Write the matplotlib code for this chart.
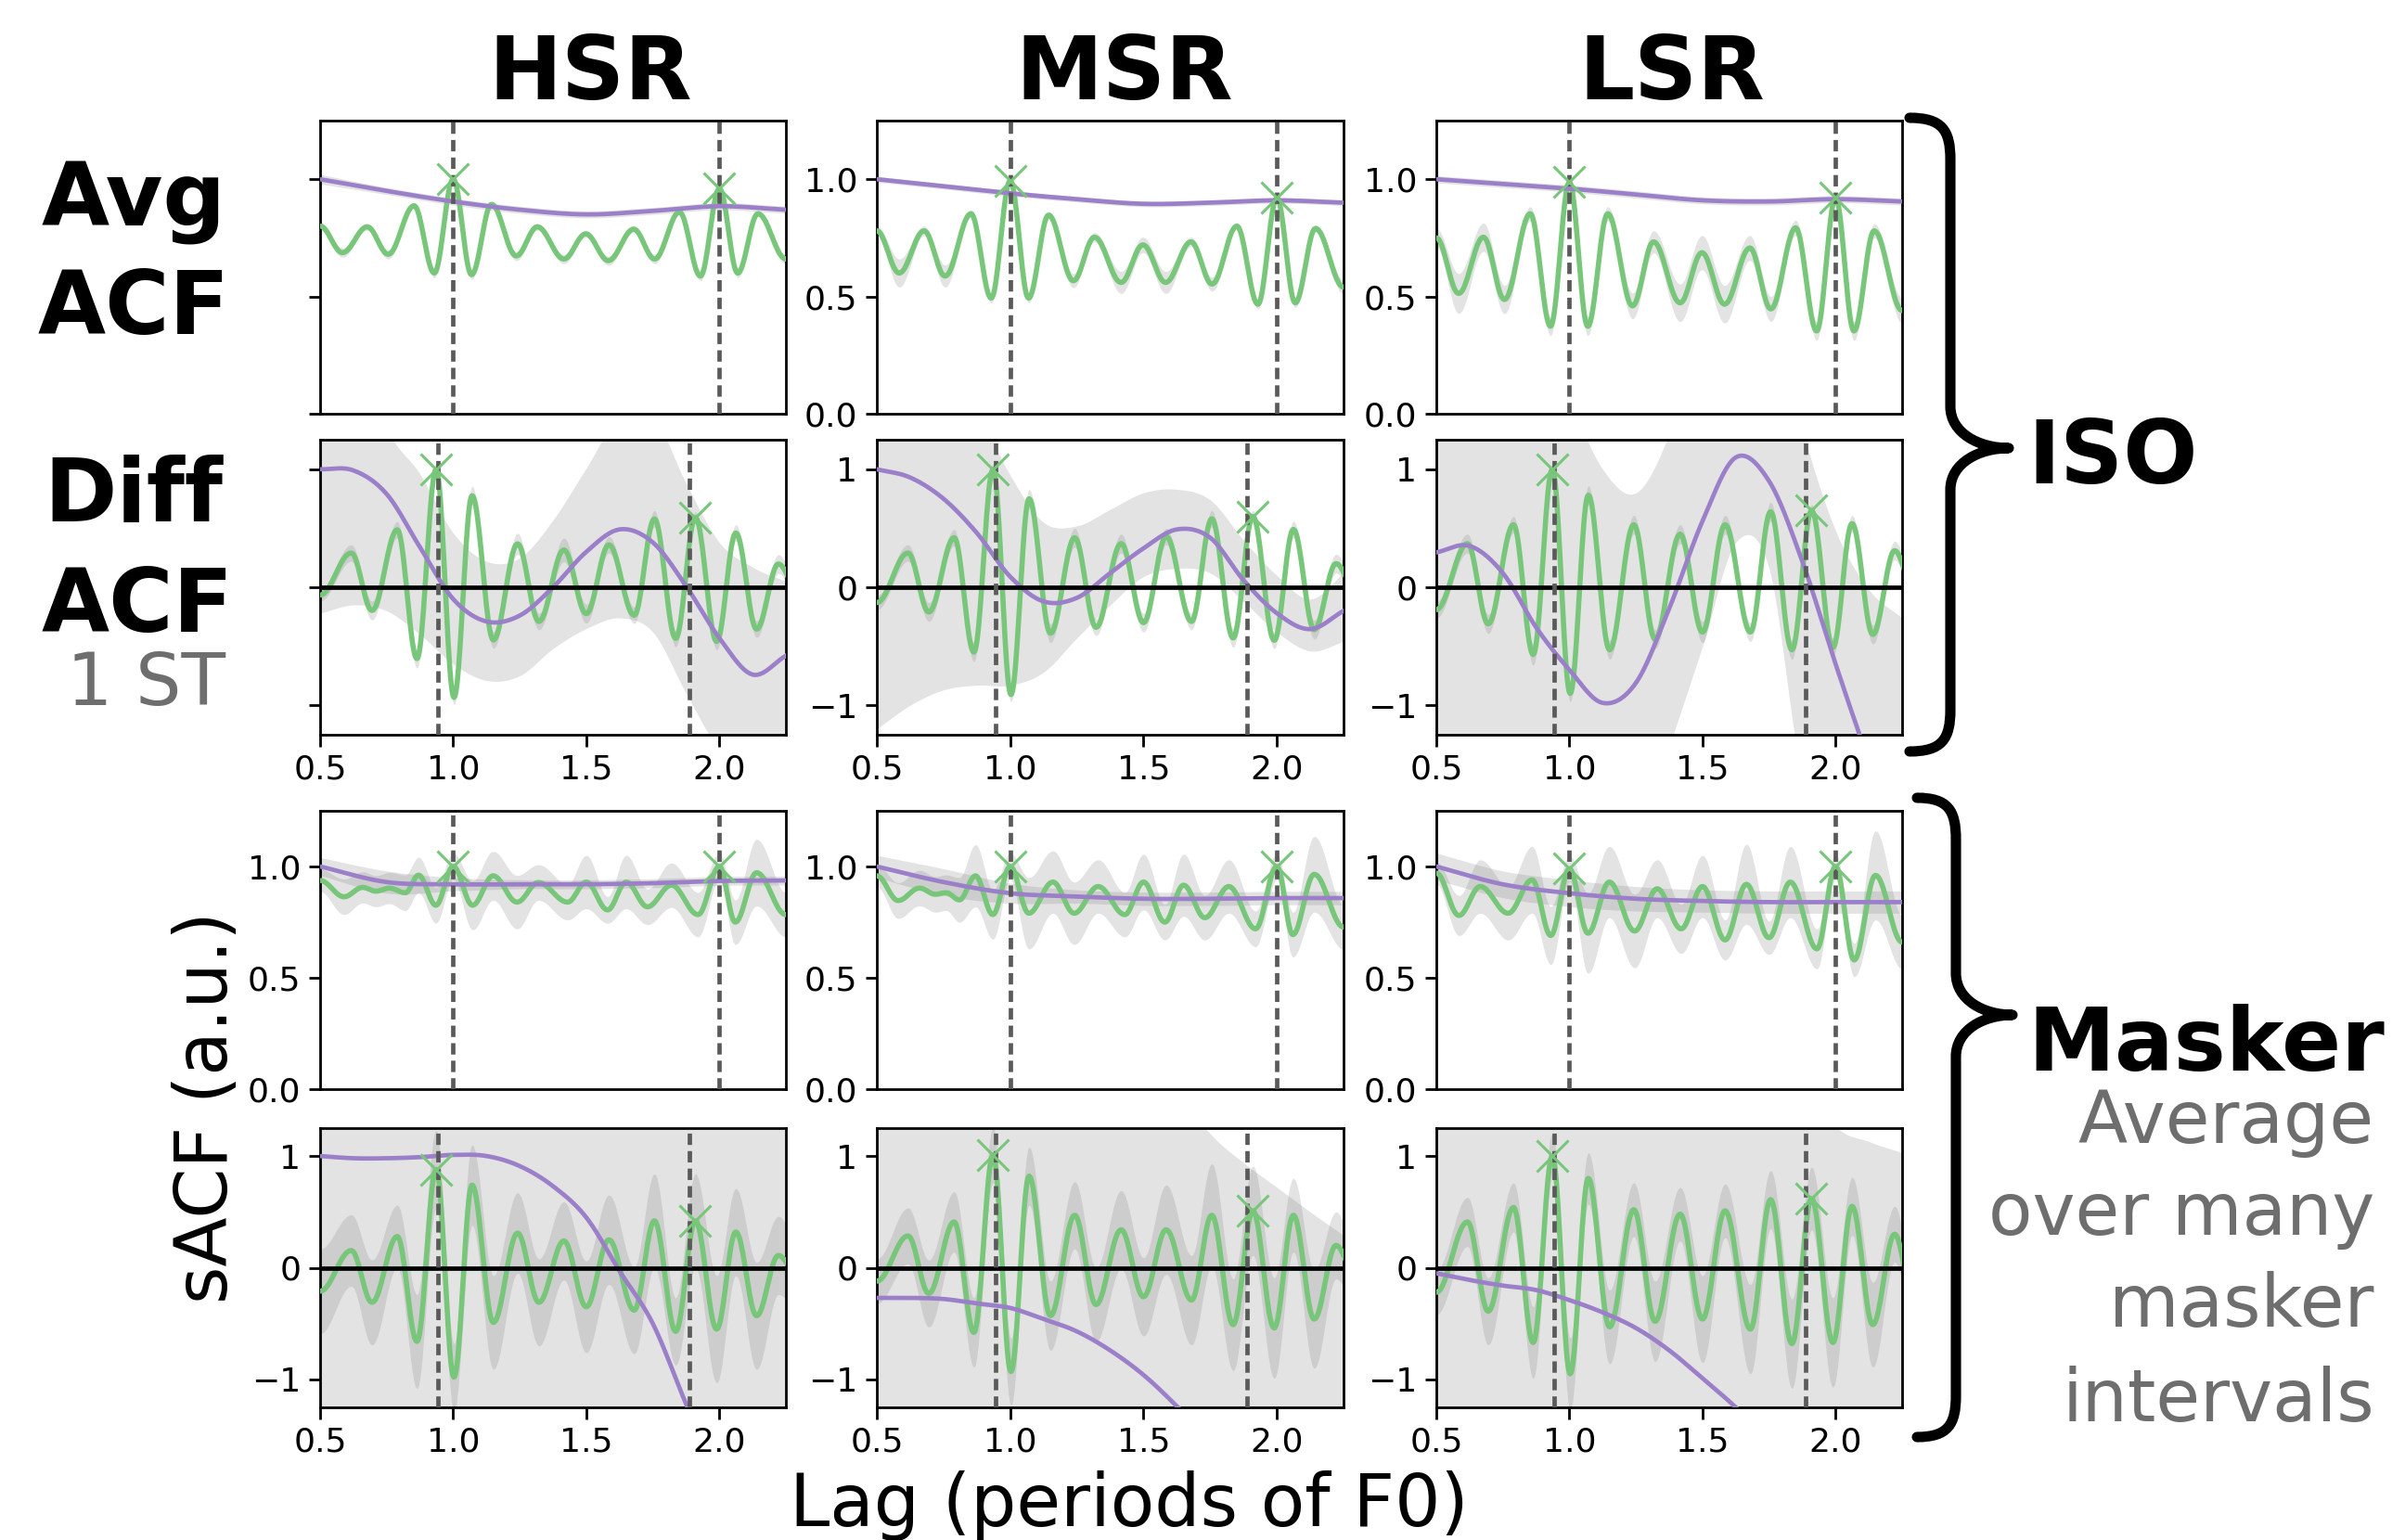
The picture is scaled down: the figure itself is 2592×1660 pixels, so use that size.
import numpy as np
import matplotlib
matplotlib.use("Agg")
import matplotlib.pyplot as plt
from matplotlib.path import Path
from matplotlib.patches import PathPatch

plt.rcParams['font.family'] = 'DejaVu Sans'

W, H, DPI = 2592, 1660, 200

GREEN = '#77c67a'
PURPLE = '#9b80c9'
DASH = '#5a5a5a'
GREY_TXT = '#6e6e6e'

columns = ['HSR', 'MSR', 'LSR']

### lags (periods of F0) of the ACF peaks / troughs
lag_avg = [0.50, 0.584, 0.677, 0.756, 0.853, 0.929, 1.0, 1.069, 1.144, 1.237, 1.316,
           1.416, 1.498, 1.583, 1.678, 1.757, 1.85, 1.929, 2.0, 2.069, 2.145, 2.25]
lag_diff = [0.50, 0.617, 0.695, 0.79, 0.864, 0.936, 1.003, 1.071, 1.151, 1.242, 1.322, 1.416,
            1.5, 1.585, 1.68, 1.756, 1.836, 1.91, 1.99, 2.062, 2.14, 2.222, 2.29]
lag_msk_avg = [
    [0.5, 0.59, 0.66, 0.71, 0.76, 0.82, 0.87, 0.935, 1.0, 1.073, 1.15, 1.24,
     1.32, 1.43, 1.5, 1.58, 1.65, 1.73, 1.82, 1.92, 2.0, 2.06, 2.14, 2.25],
    [0.5, 0.58, 0.66, 0.72, 0.76, 0.81, 0.87, 0.935, 1.0, 1.07, 1.16, 1.24,
     1.33, 1.43, 1.5, 1.58, 1.65, 1.73, 1.82, 1.92, 2.0, 2.06, 2.14, 2.25],
    [0.5, 0.585, 0.665, 0.77, 0.86, 0.93, 1.0, 1.07, 1.15, 1.245, 1.33,
     1.42, 1.5, 1.585, 1.665, 1.75, 1.83, 1.93, 2.0, 2.07, 2.15, 2.25],
]

# lags of the smooth fit (purple)
fit_lag_avg = [0.5, 0.75, 1.0, 1.25, 1.5, 1.75, 2.0, 2.25]
fit_lag_diff = [0.5, 0.625, 0.75, 0.875, 1.0, 1.125, 1.25, 1.375, 1.5, 1.625, 1.75, 1.875, 2.0, 2.125, 2.25]

period_avg = [1.0, 2.0]
period_diff = [0.944, 1.888]   # 1 semitone shift

### ISO - Avg ACF
iso_avg_green = [
    [0.80, 0.687, 0.797, 0.68, 0.887, 0.60, 1.0, 0.593, 0.893, 0.673, 0.797,
     0.66, 0.767, 0.653, 0.787, 0.66, 0.86, 0.587, 0.96, 0.60, 0.853, 0.66],
    [0.78, 0.60, 0.78, 0.587, 0.853, 0.493, 0.993, 0.493, 0.847, 0.567, 0.753,
     0.56, 0.72, 0.56, 0.733, 0.553, 0.80, 0.467, 0.92, 0.473, 0.79, 0.54],
    [0.75, 0.513, 0.753, 0.487, 0.853, 0.373, 0.987, 0.373, 0.853, 0.46, 0.733,
     0.473, 0.687, 0.467, 0.707, 0.447, 0.793, 0.353, 0.92, 0.353, 0.78, 0.44],
]
iso_avg_spread = [
    [0.015, 0.02, 0.015, 0.02, 0.01, 0.02, 0.01, 0.02, 0.01, 0.02, 0.015,
     0.02, 0.015, 0.02, 0.015, 0.02, 0.01, 0.02, 0.01, 0.02, 0.01, 0.02],
    [0.02, 0.06, 0.02, 0.047, 0.015, 0.02, 0.01, 0.02, 0.015, 0.03, 0.02,
     0.047, 0.033, 0.047, 0.02, 0.03, 0.015, 0.02, 0.01, 0.02, 0.015, 0.03],
    [0.04, 0.085, 0.06, 0.06, 0.03, 0.04, 0.02, 0.04, 0.03, 0.055, 0.047,
     0.08, 0.073, 0.08, 0.053, 0.053, 0.033, 0.04, 0.02, 0.04, 0.03, 0.055],
]
iso_avg_fit = [
    [1.0, 0.95, 0.905, 0.87, 0.85, 0.865, 0.885, 0.87],
    [1.0, 0.97, 0.94, 0.915, 0.895, 0.9, 0.91, 0.9],
    [1.0, 0.98, 0.96, 0.935, 0.91, 0.905, 0.915, 0.905],
]
iso_avg_hi = [
    [1.02, 0.965, 0.92, 0.885, 0.865, 0.88, 0.90, 0.885],
    [1.012, 0.982, 0.952, 0.927, 0.907, 0.912, 0.922, 0.912],
    [1.015, 0.995, 0.975, 0.95, 0.925, 0.92, 0.93, 0.92],
]
iso_avg_lo = [
    [0.98, 0.935, 0.89, 0.855, 0.835, 0.85, 0.87, 0.855],
    [0.988, 0.958, 0.928, 0.903, 0.883, 0.888, 0.898, 0.888],
    [0.985, 0.965, 0.945, 0.92, 0.895, 0.89, 0.90, 0.89],
]

### ISO - Diff ACF
iso_diff_green = [
    [-0.066, 0.29, -0.197, 0.487, -0.605, 1.0, -0.934, 0.776, -0.447, 0.368, -0.29, 0.316,
     -0.224, 0.36, -0.237, 0.579, -0.434, 0.59, -0.46, 0.46, -0.355, 0.197, 0.0],
    [-0.13, 0.29, -0.21, 0.42, -0.55, 1.0, -0.91, 0.75, -0.39, 0.42, -0.34, 0.37,
     -0.30, 0.43, -0.29, 0.58, -0.43, 0.60, -0.45, 0.49, -0.36, 0.20, 0.0],
    [-0.19, 0.37, -0.31, 0.53, -0.57, 1.0, -0.90, 0.78, -0.53, 0.53, -0.44, 0.45,
     -0.38, 0.53, -0.38, 0.64, -0.53, 0.65, -0.51, 0.54, -0.40, 0.31, 0.02],
]
iso_diff_spread = [
    [0.05, 0.07, 0.08, 0.07, 0.08, 0.05, 0.06, 0.08, 0.07, 0.09, 0.07, 0.10,
     0.08, 0.07, 0.07, 0.07, 0.07, 0.05, 0.07, 0.07, 0.07, 0.08, 0.07],
    [0.06, 0.07, 0.08, 0.07, 0.08, 0.05, 0.06, 0.08, 0.08, 0.08, 0.07, 0.08,
     0.08, 0.07, 0.07, 0.07, 0.08, 0.05, 0.07, 0.07, 0.08, 0.08, 0.07],
    [0.07, 0.08, 0.08, 0.07, 0.09, 0.05, 0.07, 0.08, 0.08, 0.08, 0.08, 0.08,
     0.09, 0.08, 0.08, 0.08, 0.08, 0.05, 0.08, 0.07, 0.08, 0.08, 0.07],
]
iso_diff_fit = [
    [1.0, 0.99, 0.79, 0.34, -0.10, -0.29, -0.24, 0.0, 0.30, 0.49, 0.38, 0.01, -0.43, -0.74, -0.58],
    [1.0, 0.93, 0.75, 0.46, 0.09, -0.12, -0.09, 0.12, 0.33, 0.49, 0.42, 0.06, -0.22, -0.355, -0.2],
    [0.295, 0.35, 0.12, -0.34, -0.70, -0.98, -0.81, -0.18, 0.56, 1.10, 0.90, 0.22, -0.65, -1.47, -2.2],
]
iso_diff_hi = [
    [2.5, 2.2, 1.35, 0.96, 0.46, 0.22, 0.25, 0.57, 1.01, 1.45, 1.45, 0.88, 0.38, 0.17, 0.05],
    [2.5, 2.2, 1.9, 1.5, 0.95, 0.55, 0.52, 0.66, 0.80, 0.83, 0.74, 0.40, 0.10, -0.10, 0.12],
    [2.5, 2.5, 2.5, 2.3, 1.6, 1.0, 0.8, 1.3, 2.2, 2.8, 2.6, 1.35, 0.48, -0.02, -0.26],
]
iso_diff_lo = [
    [-0.22, -0.15, -0.20, -0.40, -0.65, -0.79, -0.75, -0.52, -0.35, -0.26, -0.38, -0.90, -1.4, -1.8, -2.0],
    [-1.2, -1.0, -0.87, -0.83, -0.83, -0.72, -0.43, -0.15, 0.09, 0.16, 0.12, -0.12, -0.38, -0.54, -0.46],
    [-2.5, -2.5, -2.5, -2.3, -2.2, -2.3, -2.2, -1.35, -0.5, 0.38, 0.16, -1.6, -2.0, -2.8, -3.5],
]

### Masker - Avg ACF
msk_avg_green = [
    [0.937, 0.864, 0.906, 0.889, 0.903, 0.882, 0.961, 0.826, 1.0, 0.826, 0.958, 0.84,
     0.928, 0.84, 0.93, 0.805, 0.93, 0.819, 0.916, 0.784, 1.0, 0.75, 0.972, 0.784],
    [0.958, 0.847, 0.903, 0.875, 0.882, 0.85, 0.958, 0.784, 1.0, 0.79, 0.93, 0.79,
     0.91, 0.784, 0.93, 0.75, 0.916, 0.77, 0.91, 0.72, 1.0, 0.694, 0.965, 0.728],
    [0.97, 0.78, 0.91, 0.79, 0.94, 0.69, 0.99, 0.70, 0.93, 0.71, 0.90,
     0.72, 0.91, 0.67, 0.92, 0.68, 0.93, 0.63, 1.0, 0.58, 0.96, 0.66],
]
msk_avg_spread = [
    [0.05, 0.08, 0.07, 0.07, 0.07, 0.08, 0.08, 0.08, 0.06, 0.11, 0.11, 0.12,
     0.08, 0.08, 0.12, 0.06, 0.12, 0.08, 0.10, 0.10, 0.06, 0.10, 0.15, 0.10],
    [0.05, 0.08, 0.08, 0.08, 0.08, 0.10, 0.14, 0.11, 0.06, 0.16, 0.14, 0.14,
     0.12, 0.10, 0.125, 0.08, 0.14, 0.10, 0.12, 0.08, 0.06, 0.10, 0.17, 0.10],
    [0.05, 0.09, 0.12, 0.12, 0.15, 0.13, 0.06, 0.18, 0.16, 0.165, 0.13,
     0.11, 0.14, 0.09, 0.18, 0.075, 0.16, 0.09, 0.06, 0.075, 0.20, 0.12],
]
msk_avg_fit = [
    [1.0, 0.93, 0.92, 0.92, 0.92, 0.925, 0.935, 0.937],
    [1.0, 0.93, 0.88, 0.865, 0.855, 0.855, 0.858, 0.858],
    [1.0, 0.92, 0.88, 0.855, 0.845, 0.84, 0.84, 0.84],
]
msk_avg_hi = [
    [1.04, 0.98, 0.95, 0.94, 0.94, 0.945, 0.955, 0.957],
    [1.05, 0.99, 0.925, 0.895, 0.885, 0.885, 0.888, 0.888],
    [1.06, 0.98, 0.94, 0.91, 0.895, 0.89, 0.89, 0.89],
]
msk_avg_lo = [
    [0.96, 0.88, 0.89, 0.90, 0.90, 0.905, 0.915, 0.917],
    [0.95, 0.87, 0.835, 0.835, 0.825, 0.825, 0.828, 0.828],
    [0.94, 0.86, 0.82, 0.80, 0.795, 0.79, 0.79, 0.79],
]

### Masker - Diff ACF
msk_diff_green = [
    [-0.21, 0.154, -0.31, 0.28, -0.66, 0.88, -0.98, 0.74, -0.49, 0.31, -0.31, 0.24,
     -0.35, 0.25, -0.38, 0.42, -0.57, 0.42, -0.55, 0.32, -0.43, 0.11, -0.05],
    [-0.12, 0.285, -0.23, 0.41, -0.58, 1.01, -0.93, 0.82, -0.43, 0.47, -0.33, 0.34,
     -0.26, 0.34, -0.29, 0.47, -0.51, 0.51, -0.54, 0.47, -0.46, 0.20, -0.04],
    [-0.22, 0.41, -0.39, 0.54, -0.67, 1.0, -0.95, 0.80, -0.53, 0.52, -0.48, 0.48,
     -0.46, 0.51, -0.55, 0.61, -0.68, 0.62, -0.67, 0.55, -0.51, 0.30, -0.24],
]
msk_diff_spread = [
    [0.38, 0.32, 0.38, 0.28, 0.42, 0.35, 0.30, 0.36, 0.42, 0.36, 0.39, 0.35,
     0.41, 0.40, 0.39, 0.42, 0.30, 0.42, 0.48, 0.39, 0.48, 0.35, 0.30],
    [0.20, 0.25, 0.30, 0.27, 0.31, 0.25, 0.30, 0.26, 0.31, 0.30, 0.33, 0.35,
     0.35, 0.40, 0.40, 0.46, 0.41, 0.40, 0.45, 0.33, 0.44, 0.30, 0.25],
    [0.20, 0.22, 0.30, 0.22, 0.32, 0.20, 0.32, 0.23, 0.33, 0.24, 0.36, 0.24,
     0.39, 0.24, 0.40, 0.26, 0.40, 0.28, 0.40, 0.26, 0.38, 0.25, 0.20],
]
msk_diff_fit = [
    [1.0, 0.98, 0.98, 0.99, 1.01, 1.0, 0.91, 0.73, 0.45, -0.03, -0.50, -1.22, -1.9, -2.7, -3.6],
    [-0.27, -0.27, -0.28, -0.32, -0.36, -0.46, -0.57, -0.74, -0.96, -1.24, -1.55, -1.9, -2.3, -2.75, -3.2],
    [-0.05, -0.11, -0.16, -0.20, -0.29, -0.40, -0.54, -0.74, -0.99, -1.25, -1.55, -1.9, -2.3, -2.75, -3.2],
]
msk_diff_hi = [
    [3.0, 3.0, 3.0, 3.0, 3.0, 3.0, 3.0, 3.0, 3.0, 3.0, 3.0, 3.0, 3.0, 3.0, 3.0],
    [3.0, 3.0, 3.0, 3.0, 3.0, 3.0, 3.0, 2.6, 2.2, 1.6, 1.2, 0.94, 0.72, 0.50, 0.29],
    [3.0, 3.0, 3.0, 3.0, 3.0, 3.0, 3.0, 3.0, 3.0, 3.0, 2.6, 1.8, 1.27, 1.13, 1.03],
]
msk_diff_lo = [
    [-4.0, -4.0, -4.0, -4.0, -4.0, -4.0, -4.0, -4.0, -4.0, -4.0, -4.0, -4.0, -4.0, -4.0, -4.0],
    [-4.0, -4.0, -4.0, -4.0, -4.0, -4.0, -4.0, -4.0, -4.0, -4.0, -4.0, -4.0, -4.0, -4.0, -4.0],
    [-4.0, -4.0, -4.0, -4.0, -4.0, -4.0, -4.0, -4.0, -4.0, -4.0, -4.0, -4.0, -4.0, -4.0, -4.0],
]


def wave(xe, ye, se, n=24):
    # half-cosine between consecutive extrema
    xs, ys, ss = [], [], []
    for i in range(len(xe) - 1):
        t = np.linspace(0, 1, n, endpoint=False)
        w = (1 - np.cos(np.pi * t)) / 2
        xs.append(xe[i] + (xe[i + 1] - xe[i]) * t)
        ys.append(ye[i] + (ye[i + 1] - ye[i]) * w)
        ss.append(se[i] + (se[i + 1] - se[i]) * w)
    xs.append([xe[-1]]); ys.append([ye[-1]]); ss.append([se[-1]])
    return np.concatenate(xs), np.concatenate(ys), np.concatenate(ss)


def spline(xk, yk, n=30):
    # Catmull-Rom through the fit points
    xk = np.asarray(xk, float); yk = np.asarray(yk, float)
    p = np.concatenate([[2 * yk[0] - yk[1]], yk, [2 * yk[-1] - yk[-2]]])
    xs, ys = [], []
    for i in range(len(xk) - 1):
        t = np.linspace(0, 1, n, endpoint=False)
        p0, p1, p2, p3 = p[i], p[i + 1], p[i + 2], p[i + 3]
        ys.append(0.5 * (2 * p1 + (-p0 + p2) * t + (2 * p0 - 5 * p1 + 4 * p2 - p3) * t ** 2
                         + (-p0 + 3 * p1 - 3 * p2 + p3) * t ** 3))
        xs.append(xk[i] + (xk[i + 1] - xk[i]) * t)
    xs.append([xk[-1]]); ys.append([yk[-1]])
    return np.concatenate(xs), np.concatenate(ys)


def draw_panel(ax, lags, green, spread, fit_lags, fit, hi, lo, periods, diff):
    fx, fy = spline(fit_lags, fit)
    _, fh = spline(fit_lags, hi)
    _, fl = spline(fit_lags, lo)
    ax.fill_between(fx, fl, fh, color='gray', alpha=0.22, lw=0, zorder=1)
    gx, gy, gs = wave(lags, green, spread)
    ax.fill_between(gx, gy - gs, gy + gs, color='gray', alpha=0.22, lw=0, zorder=1.5)
    ax.plot(gx, gy, color=GREEN, lw=2.0, zorder=3)
    ax.plot(fx, fy, color=PURPLE, lw=1.7, zorder=4)
    if diff:
        ax.axhline(0, color='k', lw=1.7, zorder=5)
    for p in periods:
        ax.axvline(p, color=DASH, lw=1.7, ls=(0, (2.6, 1.4)), zorder=6)
        k = int(np.argmin(np.abs(np.asarray(lags) - p)))
        ax.plot(lags[k], green[k], 'x', color=GREEN, ms=12, mew=1.1, zorder=7)
    ax.set_xlim(0.5, 2.25)
    if diff:
        ax.set_ylim(-1.25, 1.25)
        ax.set_yticks([-1, 0, 1])
    else:
        ax.set_ylim(0, 1.25)
        ax.set_yticks([0.0, 0.5, 1.0])
        ax.set_yticklabels(['0.0', '0.5', '1.0'])
    ax.set_xticks([0.5, 1.0, 1.5, 2.0])
    ax.set_xticklabels(['0.5', '1.0', '1.5', '2.0'])
    ax.tick_params(labelsize=13, length=4.5, width=1.0, pad=3)
    for s in ax.spines.values():
        s.set_linewidth(1.0)


fig = plt.figure(figsize=(W / DPI, H / DPI), dpi=DPI)

col_px = [(345, 847), (945, 1448), (1548, 2050)]
row_px = [(130, 446), (474, 792), (874, 1174), (1216, 1517)]

rows = [
    (lambda c: lag_avg, iso_avg_green, iso_avg_spread, fit_lag_avg, iso_avg_fit, iso_avg_hi, iso_avg_lo, period_avg, False),
    (lambda c: lag_diff, iso_diff_green, iso_diff_spread, fit_lag_diff, iso_diff_fit, iso_diff_hi, iso_diff_lo, period_diff, True),
    (lambda c: lag_msk_avg[c], msk_avg_green, msk_avg_spread, fit_lag_avg, msk_avg_fit, msk_avg_hi, msk_avg_lo, period_avg, False),
    (lambda c: lag_diff, msk_diff_green, msk_diff_spread, fit_lag_diff, msk_diff_fit, msk_diff_hi, msk_diff_lo, period_diff, True),
]

for r, (lagf, grn, spr, flag, fit, hi, lo, per, diff) in enumerate(rows):
    y0, y1 = row_px[r]
    for c in range(3):
        x0, x1 = col_px[c]
        ax = fig.add_axes([x0 / W, 1 - y1 / H, (x1 - x0) / W, (y1 - y0) / H])
        draw_panel(ax, lagf(c), grn[c], spr[c], flag, fit[c], hi[c], lo[c], per, diff)
        if not diff:
            ax.tick_params(bottom=False, labelbottom=False)
        if c == 0 and r < 2:
            ax.tick_params(labelleft=False)


def ftext(x, y, s, **kw):
    fig.text(x / W, 1 - y / H, s, **kw)


# column titles
for name, xc in zip(columns, [636, 1212, 1802]):
    ftext(xc, 107, name, fontsize=34, fontweight='bold', ha='center', va='baseline')

# row labels
ftext(144, 243, 'Avg', fontsize=34, fontweight='bold', ha='center', va='baseline')
ftext(144, 360, 'ACF', fontsize=34, fontweight='bold', ha='center', va='baseline')
ftext(144, 562, 'Diff', fontsize=34, fontweight='bold', ha='center', va='baseline')
ftext(148, 681, 'ACF', fontsize=34, fontweight='bold', ha='center', va='baseline')
ftext(158, 760, '1 ST', fontsize=28, color=GREY_TXT, ha='center', va='baseline')

ftext(223, 1194, 'sACF (a.u.)', fontsize=28, rotation=90, ha='center', va='center')
ftext(1217, 1645, 'Lag (periods of F0)', fontsize=28, ha='center', va='baseline')

# group labels
ftext(2185, 521, 'ISO', fontsize=34, fontweight='bold', ha='left', va='baseline')
ftext(2185, 1154, 'Masker', fontsize=34, fontweight='bold', ha='left', va='baseline')
for s, yb in zip(['Average', 'over many', 'masker', 'intervals'], [1232, 1331, 1430, 1532]):
    ftext(2559, yb, s, fontsize=28, color=GREY_TXT, ha='right', va='baseline')


def brace(xl, xv, xt, yt, ym, yb, r=45):
    pts = [(xl, yt), (xl + 0.8 * (xv - xl), yt), (xv, yt + 0.3 * r), (xv, yt + r),
           (xv, ym - r),
           (xv, ym - 0.35 * r), (xv + 0.5 * (xt - xv), ym), (xt, ym),
           (xv + 0.5 * (xt - xv), ym), (xv, ym + 0.35 * r), (xv, ym + r),
           (xv, yb - r),
           (xv, yb - 0.3 * r), (xl + 0.8 * (xv - xl), yb), (xl, yb)]
    codes = [Path.MOVETO, Path.CURVE4, Path.CURVE4, Path.CURVE4, Path.LINETO,
             Path.CURVE4, Path.CURVE4, Path.CURVE4, Path.CURVE4, Path.CURVE4, Path.CURVE4,
             Path.LINETO, Path.CURVE4, Path.CURVE4, Path.CURVE4]
    verts = [(x / W, 1 - y / H) for x, y in pts]
    fig.add_artist(PathPatch(Path(verts, codes), fill=False, lw=4.0, edgecolor='k',
                             transform=fig.transFigure, capstyle='round', joinstyle='round'))


brace(2058, 2102, 2165, 127, 483, 810)
brace(2066, 2108, 2169, 860, 1094, 1549)

fig.savefig('out.png', dpi=DPI)
